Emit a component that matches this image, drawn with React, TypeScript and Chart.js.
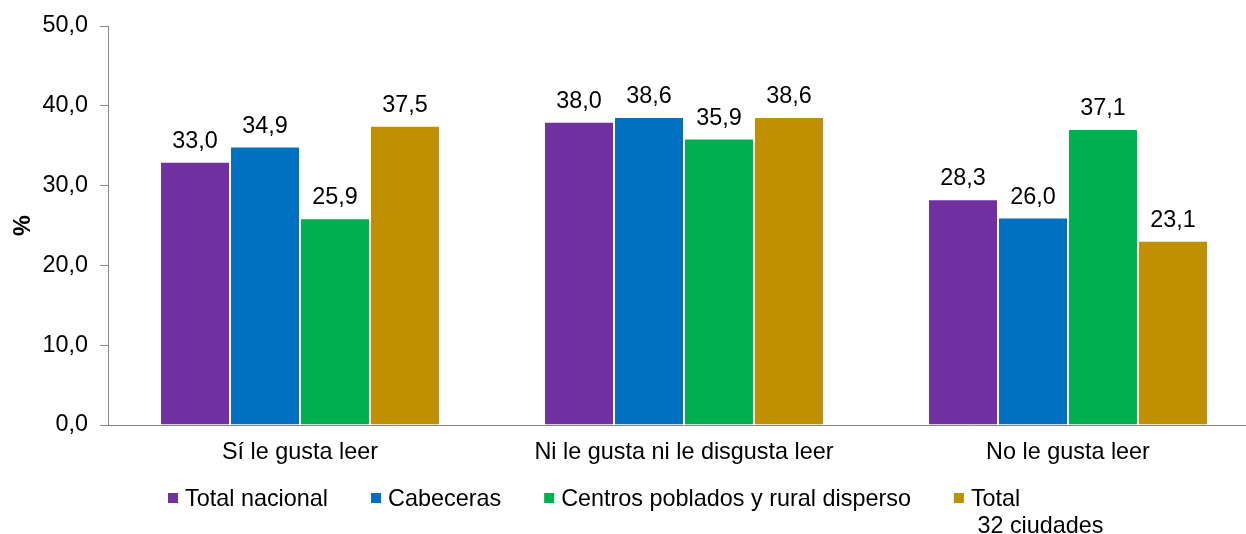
import React, { useEffect, useRef } from "react";
import { Chart, registerables } from "chart.js";

Chart.register(...registerables);

const categories = ["Sí le gusta leer", "Ni le gusta ni le disgusta leer", "No le gusta leer"];
const seriesNames = ["Total nacional", "Cabeceras", "Centros poblados y rural disperso", "Total 32 ciudades"];
const legendLabels = [["Total nacional"], ["Cabeceras"], ["Centros poblados y rural disperso"], ["Total", " 32 ciudades"]];
const totalNacional = [33.0, 38.0, 28.3];
const cabeceras = [34.9, 38.6, 26.0];
const centrosPoblados = [25.9, 35.9, 37.1];
const total32Ciudades = [37.5, 38.6, 23.1];
const yTicks = [0, 10, 20, 30, 40, 50];
const colors = ["#7030A0", "#0070C0", "#00B050", "#BF9000"];

const FAMILY = '"Liberation Sans", Arial, sans-serif';
const SIZE = 23.4;
const FONT = `${SIZE}px ${FAMILY}`;
const fmt = (v: number) => v.toFixed(1).replace(".", ",");

const dataLabels = {
  id: "dataLabels",
  afterDatasetsDraw(chart: any) {
    const ctx = chart.ctx;
    ctx.save();
    ctx.font = FONT;
    ctx.fillStyle = "#000";
    ctx.textAlign = "center";
    ctx.textBaseline = "alphabetic";
    chart.data.datasets.forEach((ds: any, i: number) => {
      const meta = chart.getDatasetMeta(i);
      meta.data.forEach((bar: any, j: number) => {
        ctx.fillText(fmt(ds.data[j]), bar.x, bar.y - 14);
      });
    });
    ctx.restore();
  },
};

const customLegend = {
  id: "customLegend",
  afterDraw(chart: any) {
    const ctx = chart.ctx;
    ctx.save();
    ctx.font = FONT;
    ctx.textAlign = "left";
    ctx.textBaseline = "alphabetic";
    let x = 168;
    const baseY = 506;
    chart.data.datasets.forEach((ds: any, i: number) => {
      const lines = legendLabels[i];
      ctx.fillStyle = ds.backgroundColor;
      ctx.fillRect(x, 493, 10, 10);
      const tx = x + 17;
      ctx.fillStyle = "#000";
      let w = 0;
      lines.forEach((l: string, k: number) => {
        ctx.fillText(l, tx, baseY + k * 27);
        w = Math.max(w, ctx.measureText(l).width);
      });
      x = tx + w + 43;
    });
    ctx.restore();
  },
};

export default function App() {
  const ref = useRef<HTMLCanvasElement>(null);
  useEffect(() => {
    const values = [totalNacional, cabeceras, centrosPoblados, total32Ciudades];
    const chart = new Chart(ref.current!, {
      type: "bar",
      data: {
        labels: categories,
        datasets: values.map((d, i) => ({
          label: seriesNames[i],
          data: d,
          backgroundColor: colors[i],
          borderColor: "rgba(255,255,255,0.75)",
          borderWidth: 1,
          borderSkipped: "bottom",
          categoryPercentage: 0.729,
          barPercentage: 1,
        })),
      },
      options: {
        responsive: false,
        animation: false,
        devicePixelRatio: 1,
        layout: { padding: { top: 25, right: 10, left: 0, bottom: 0 } },
        plugins: { legend: { display: false }, tooltip: { enabled: false } },
        scales: {
          x: {
            grid: { display: true, drawOnChartArea: false, drawTicks: false },
            border: { color: "#868686", width: 1 },
            ticks: { font: { family: FAMILY, size: SIZE }, color: "#000", padding: 14, maxRotation: 0 },
            afterFit: (s: any) => {
              s.height = 109;
            },
          },
          y: {
            min: 0,
            max: 50,
            afterBuildTicks: (s: any) => {
              s.ticks = yTicks.map((v) => ({ value: v }));
            },
            ticks: {
              callback: (v: any) => fmt(Number(v)),
              font: { family: FAMILY, size: SIZE },
              color: "#000",
              padding: 12,
            },
            grid: { drawOnChartArea: false, drawTicks: true, tickLength: 8, color: "#868686" },
            border: { color: "#868686", width: 1 },
            title: {
              display: true,
              text: "%",
              font: { family: FAMILY, size: SIZE, weight: "bold" },
              color: "#000",
              padding: { top: 10, bottom: 0 },
            },
            afterFit: (s: any) => {
              s.width = 108;
            },
          },
        },
      },
      plugins: [dataLabels, customLegend],
    } as any);
    return () => chart.destroy();
  }, []);
  return (
    <div style={{ position: "absolute", left: 0, top: 0, width: 1246, height: 534, overflow: "hidden", background: "#fff" }}>
      <canvas ref={ref} width={1270} height={534} style={{ display: "block", width: 1270, height: 534 }} />
    </div>
  );
}
